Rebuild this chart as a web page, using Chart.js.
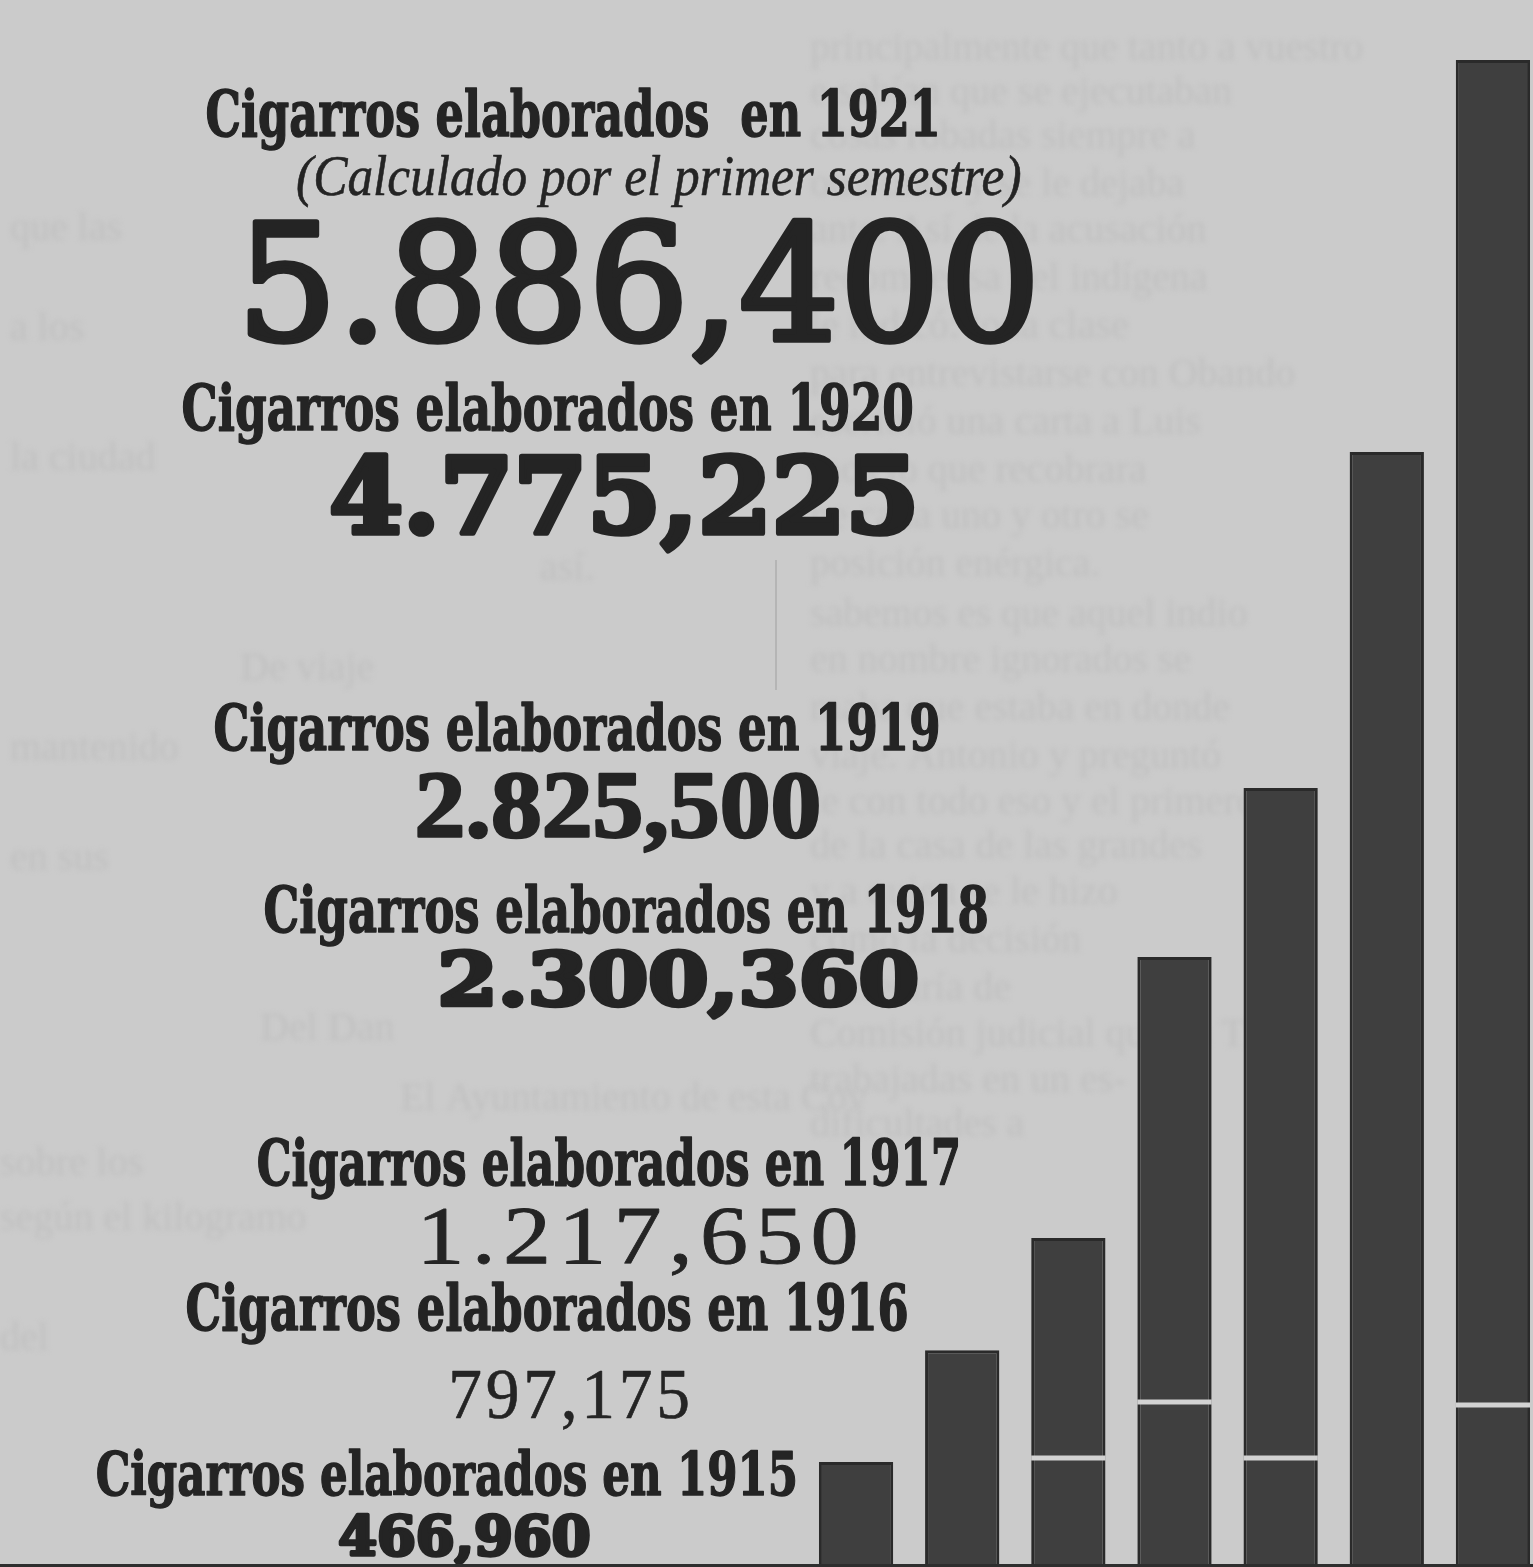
<!DOCTYPE html>
<html lang="es">
<head>
<meta charset="utf-8">
<title>Cigarros elaborados 1915-1921</title>
<script src="https://cdn.jsdelivr.net/npm/chart.js@4.4.1/dist/chart.umd.min.js"></script>
<style>
  html, body { margin: 0; padding: 0; background: #cbcbcb; overflow: hidden; }
  #grafico { display: block; }
</style>
</head>
<body>
<canvas id="grafico" width="1546" height="1567"></canvas>
<script>
// Años de la gráfica
const anios = ['1915', '1916', '1917', '1918', '1919', '1920', '1921'];
// Cifras impresas junto a cada año
const cifras = ['466,960', '797,175', '1.217,650', '2.300,360', '2.825,500', '4.775,225', '5.886,400'];
// Altura de las barras tal como están dibujadas (no van a escala con las cifras)
const alturaBarras = [410000, 847000, 1285000, 2382000, 3042000, 4355000, 5886000];
// Rayas claras que cruzan algunas barras (desde, hasta)
const rayasClaras = [null, null, [416000, 435000], [635000, 654000], [416000, 435000], null, [623000, 642000]];
const topeEje = 6120000;

// Colocación de los rótulos: [x izq, x der, arriba, línea base]
const cabeceras = [
    [97, 795, 1450, 1495],
    [187, 907, 1283, 1330],
    [258, 958, 1138, 1185],
    [265, 987, 885, 932],
    [215, 938, 703, 750],
    [183, 912, 383, 430],
    [207, 937, 88, 136]
];
const cajasCifras = [
    [340, 588, 1515, 1555],
    [452, 688, 1370, 1418],
    [425, 855, 1208, 1263],
    [443, 915, 950, 1005],
    [418, 818, 773, 837],
    [333, 912, 455, 533],
    [250, 1030, 220, 340]
];
// Tipo de letra de cada cifra
const fuentesCifras = [
    { f: 'bold 60px "DejaVu Serif"', trazo: 4 },
    { f: '72px "Liberation Serif"', esp: '4px', trazo: 0.6 },
    { f: '80px "Liberation Serif"', esp: '6px', trazo: 0.8 },
    { f: 'bold 80px "DejaVu Serif"', trazo: 5 },
    { f: 'bold 90px "Liberation Serif"', trazo: 2.5 },
    { f: 'bold 110px "DejaVu Serif"', trazo: 6 },
    { f: '170px "DejaVu Serif"', trazo: 6 }
];

// Texto que se transparenta del otro lado del papel
const textoFantasma = [
    [810, 60, 'principalmente que tanto a vuestro'],
    [810, 104, 'e sabían que se ejecutaban'],
    [810, 148, 'cosas robadas siempre a'],
    [810, 196, 'otra unos y se le dejaba'],
    [810, 242, 'ante. Así de la acusación'],
    [810, 290, 'recompensa del indígena'],
    [810, 338, 'le indicó: toda clase'],
    [810, 386, 'para entrevistarse con Obando'],
    [810, 434, 'escribió una carta a Luis'],
    [810, 482, 'mos lo que recobrara'],
    [810, 528, 'ne cada uno y otro se'],
    [810, 576, 'posición enérgica.'],
    [810, 626, 'sabemos es que aquel indio'],
    [810, 672, 'en nombre ignorados se'],
    [810, 720, 'maba que estaba en donde'],
    [810, 768, 'viaje. Antonio y preguntó'],
    [810, 814, 'le con todo eso y el primero'],
    [810, 858, 'de la casa de las grandes'],
    [810, 904, 'y a quien se le hizo'],
    [810, 952, 'como la decisión'],
    [810, 1000, 'secretaría de'],
    [810, 1046, 'Comisión judicial que en Tic-'],
    [810, 1092, 'trabajadas en un es-'],
    [810, 1136, 'dificultades a'],
    [240, 680, 'De viaje'],
    [260, 1040, 'Del Dan'],
    [400, 1110, 'El Ayuntamiento de esta Cov'],
    [0, 1175, 'sobre los'],
    [0, 1230, 'según el kilogramo'],
    [0, 1350, 'del'],
    [10, 240, 'que las'],
    [10, 340, 'a los'],
    [10, 470, 'la ciudad'],
    [10, 760, 'mantenido'],
    [10, 870, 'en sus'],
    [540, 580, 'así.']
];

const tinta = '#242424';

// Dibuja un texto ajustado a su caja
function rotulo(ctx, texto, fuente, caja, esp, trazo) {
    const [x0, x1, arriba, base] = caja;
    ctx.save();
    ctx.font = fuente;
    ctx.letterSpacing = esp || '0px';
    const m = ctx.measureText(texto);
    const ancho = m.actualBoundingBoxLeft + m.actualBoundingBoxRight;
    const sx = (x1 - x0) / ancho;
    const sy = (base - arriba) / m.actualBoundingBoxAscent;
    ctx.translate(x0, base);
    ctx.scale(sx, sy);
    ctx.fillStyle = tinta;
    ctx.textBaseline = 'alphabetic';
    ctx.fillText(texto, m.actualBoundingBoxLeft, 0);
    if (trazo) {
        ctx.strokeStyle = tinta;
        ctx.lineWidth = trazo;
        ctx.lineJoin = 'round';
        ctx.strokeText(texto, m.actualBoundingBoxLeft, 0);
    }
    ctx.restore();
}

const fondoYRotulos = {
    id: 'fondoYRotulos',
    beforeDraw(chart) {
        const ctx = chart.ctx;
        ctx.save();
        ctx.fillStyle = '#cbcbcb';
        ctx.fillRect(0, 0, chart.width, chart.height);
        // transparencia del reverso, muy tenue
        ctx.filter = 'blur(2.5px)';
        ctx.fillStyle = '#c0c0c0';
        ctx.font = '40px "Liberation Serif"';
        textoFantasma.forEach(([x, y, t]) => ctx.fillText(t, x, y));
        ctx.filter = 'none';
        // filete de columna, apenas visible
        ctx.fillStyle = '#b5b5b5';
        ctx.fillRect(775, 560, 2, 130);
        ctx.restore();
    },
    afterDraw(chart) {
        const ctx = chart.ctx;
        for (let i = 0; i < anios.length; i++) {
            const espacio = anios[i] === '1921' ? '  ' : ' ';
            rotulo(ctx, 'Cigarros elaborados' + espacio + 'en ' + anios[i], 'bold 64px "DejaVu Serif"', cabeceras[i], null, 1.5);
            const fc = fuentesCifras[i];
            rotulo(ctx, cifras[i], fc.f, cajasCifras[i], fc.esp, fc.trazo);
        }
        rotulo(ctx, '(Calculado por el primer semestre)', 'italic 56px "Liberation Serif"', [297, 1020, 155, 195], null, 0.6);
        // borde inferior
        ctx.save();
        ctx.fillStyle = '#2e2e2e';
        ctx.fillRect(0, chart.height - 3, chart.width, 3);
        ctx.restore();
    }
};

const ctx = document.getElementById('grafico').getContext('2d');
new Chart(ctx, {
    type: 'bar',
    data: {
        labels: anios,
        datasets: [
            {
                label: 'rayas',
                data: rayasClaras,
                backgroundColor: '#d2d2d2',
                grouped: false,
                order: 0,
                barPercentage: 0.7,
                categoryPercentage: 1
            },
            {
                label: 'Cigarros elaborados',
                data: alturaBarras,
                backgroundColor: '#3f3f3f',
                borderColor: '#2a2a2a',
                borderWidth: 3,
                grouped: false,
                order: 1,
                barPercentage: 0.7,
                categoryPercentage: 1
            }
        ]
    },
    options: {
        responsive: false,
        animation: false,
        layout: { padding: { left: 803, right: 0, top: 0, bottom: 0 } },
        scales: {
            x: { display: false },
            y: { display: false, min: 0, max: topeEje }
        },
        plugins: {
            legend: { display: false },
            tooltip: { enabled: false }
        }
    },
    plugins: [fondoYRotulos]
});
</script>
</body>
</html>
